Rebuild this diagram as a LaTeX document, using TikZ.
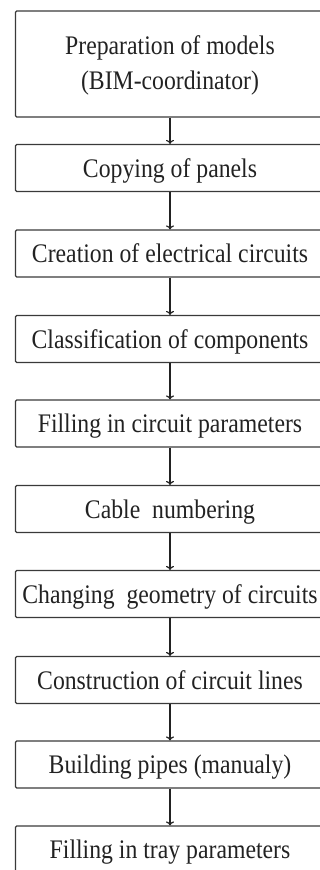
\documentclass[tikz,border=0pt]{standalone}
\usepackage{fontspec}
\setmainfont{Liberation Serif}
\usetikzlibrary{arrows.meta}
\definecolor{ln}{HTML}{3A3A3A}
\definecolor{tx}{HTML}{222222}
\newcommand{\tallt}[1]{\scalebox{1}[1.13]{#1}}
\tikzset{
  txt/.style={inner sep=0pt, text=tx, font=\fontsize{17.8}{24}\selectfont},
  stepbox/.style={txt, draw=ln, line width=0.9pt, rounded corners=1pt, minimum width=231.75pt, minimum height=35.25pt, text height=16pt, text depth=2pt},
  bigbox/.style={stepbox, minimum height=79.5pt},
  conn/.style={draw=tx, line width=0.9pt, -{To[length=3pt,width=6pt]}}
}
\begin{document}
\begin{tikzpicture}[x=0.75pt,y=-0.75pt]
\useasboundingbox (0,0) rectangle (320,870);
\clip (0,0) rectangle (320,870);
\node[bigbox] (b1) at (170,64) {};
\node[txt, anchor=base] (t1a) at (170,55) {\tallt{Preparation of models}};
\node[txt, anchor=base] (t1b) at (170,89.3) {\tallt{(BIM-coordinator)}};
\node[stepbox] (b2) at (170,168) {\tallt{Copying of panels}};
\node[stepbox] (b3) at (170,253.5) {\tallt{Creation of electrical circuits}};
\node[stepbox] (b4) at (170,339) {\tallt{Classification of components}};
\node[stepbox] (b5) at (170,423.5) {\tallt{Filling in circuit parameters}};
\node[stepbox] (b6) at (170,509) {\tallt{Cable~~numbering}};
\node[stepbox] (b7) at (170,594) {\tallt{Changing~~geometry of circuits}};
\node[stepbox] (b8) at (170,680) {\tallt{Construction of circuit lines}};
\node[stepbox] (b9) at (170,764.5) {\tallt{Building pipes (manualy)}};
\node[stepbox] (b10) at (170,849.5) {\tallt{Filling in tray parameters}};
\foreach \a/\b in {b1/b2,b2/b3,b3/b4,b4/b5,b5/b6,b6/b7,b7/b8,b8/b9,b9/b10}
  \draw[conn] (\a) -- (\b);
\end{tikzpicture}
\end{document}
